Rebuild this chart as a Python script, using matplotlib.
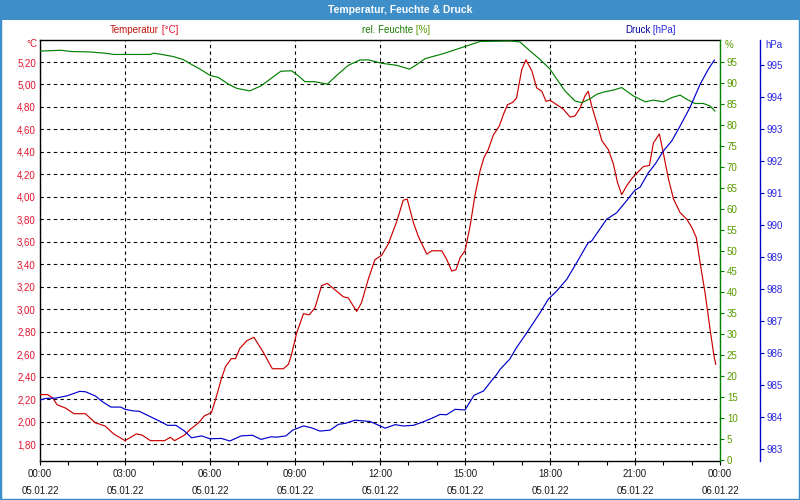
import numpy as np
import matplotlib
matplotlib.use("Agg")
import matplotlib.pyplot as plt
from matplotlib.patches import Rectangle
from matplotlib.ticker import FuncFormatter

plt.rcParams['font.family'] = ['Liberation Sans', 'DejaVu Sans']
plt.rcParams['font.size'] = 7

# Stunden ab 05.01.22 00:00
temp_h = [0, 0.27, 0.45, 0.6, 0.9, 1.2, 1.6, 1.95, 2.3, 2.6,
          3.0, 3.4, 3.6, 3.9, 4.4, 4.6, 4.75, 5.1, 5.3, 5.6,
          5.8, 6.05, 6.2, 6.4, 6.55, 6.75, 6.9, 7.05, 7.3, 7.55,
          7.85, 8.2, 8.59, 8.77, 8.88, 9.06, 9.3, 9.5, 9.7, 9.94,
          10.14, 10.47, 10.71, 10.88, 11.18, 11.35, 11.59, 11.82, 12.06, 12.29,
          12.59, 12.82, 12.96, 13.18, 13.35, 13.65, 13.83, 14.18, 14.36, 14.53,
          14.68, 14.83, 15.0, 15.18, 15.35, 15.53, 15.67, 15.82, 16.0, 16.21,
          16.35, 16.5, 16.68, 16.82, 17.0, 17.15, 17.36, 17.53, 17.71, 17.86,
          18.0, 18.24, 18.47, 18.71, 18.88, 19.06, 19.24, 19.35, 19.47, 19.65,
          19.83, 20.06, 20.24, 20.38, 20.53, 20.71, 20.88, 21.06, 21.3, 21.51,
          21.65, 21.86, 22.0, 22.18, 22.36, 22.59, 22.83, 23.0, 23.16, 23.3,
          23.47, 23.65, 23.79, 23.85]
temp_c = [2.24, 2.24, 2.21, 2.15, 2.12, 2.07, 2.07, 1.99, 1.96, 1.89,
          1.83, 1.89, 1.88, 1.83, 1.83, 1.86, 1.83, 1.88, 1.93, 1.99,
          2.05, 2.08, 2.20, 2.38, 2.49, 2.56, 2.56, 2.65, 2.72, 2.75,
          2.63, 2.47, 2.47, 2.51, 2.60, 2.79, 2.96, 2.95, 3.01, 3.21,
          3.23, 3.16, 3.11, 3.10, 2.98, 3.06, 3.27, 3.44, 3.48, 3.58,
          3.78, 3.97, 3.98, 3.77, 3.65, 3.49, 3.52, 3.52, 3.44, 3.34,
          3.35, 3.46, 3.52, 3.74, 4.01, 4.23, 4.35, 4.42, 4.55, 4.63,
          4.73, 4.82, 4.84, 4.88, 5.13, 5.22, 5.12, 4.97, 4.94, 4.85,
          4.86, 4.82, 4.78, 4.71, 4.72, 4.79, 4.90, 4.94, 4.81, 4.66,
          4.50, 4.42, 4.29, 4.13, 4.02, 4.10, 4.16, 4.21, 4.27, 4.28,
          4.48, 4.56, 4.39, 4.16, 3.98, 3.86, 3.80, 3.73, 3.64, 3.41,
          3.15, 2.82, 2.58, 2.51]

hum_h = [0, 0.74, 1.1, 1.75, 2.3, 2.6, 3.9, 4.0, 4.3, 4.7,
         5.05, 5.35, 5.65, 6.0, 6.3, 6.65, 6.95, 7.4, 7.8, 8.1,
         8.5, 8.88, 9.12, 9.35, 9.7, 10.14, 10.47, 10.88, 11.3, 11.6,
         12.06, 12.59, 13.04, 13.3, 13.59, 14.24, 15.0, 15.53, 16.6, 16.94,
         17.3, 17.65, 18.0, 18.24, 18.53, 18.88, 19.12, 19.41, 19.65, 19.88,
         20.24, 20.53, 20.94, 21.36, 21.65, 22.0, 22.3, 22.59, 22.83, 23.12,
         23.41, 23.65, 23.82]
hum_pct = [97.6, 97.8, 97.5, 97.4, 97.1, 96.8, 96.8, 97.1, 96.8, 96.3,
           95.6, 94.4, 93.3, 91.8, 91.3, 89.7, 88.7, 88.1, 89.3, 90.8,
           92.8, 92.9, 91.7, 90.3, 90.3, 89.7, 91.8, 94.2, 95.5, 95.5,
           94.7, 94.2, 93.3, 94.4, 95.8, 97.0, 98.7, 99.9, 100, 99.8,
           97.6, 95.6, 93.3, 90.9, 88.1, 85.7, 85.3, 86.2, 87.3, 87.8,
           88.3, 88.9, 86.9, 85.5, 85.9, 85.5, 86.5, 87.1, 86.1, 85.1,
           85.1, 84.5, 83.3]

druck_h = [0, 0.2, 0.55, 0.95, 1.4, 1.6, 1.95, 2.2, 2.5, 2.85,
           3.0, 3.3, 3.5, 3.8, 4.2, 4.5, 4.8, 5.1, 5.35, 5.7,
           6.0, 6.4, 6.7, 7.1, 7.5, 7.8, 8.15, 8.35, 8.68, 8.92,
           9.3, 9.59, 9.88, 10.24, 10.53, 10.77, 11.12, 11.65, 11.88, 12.18,
           12.53, 12.82, 13.18, 13.53, 13.88, 14.12, 14.35, 14.65, 15.0, 15.32,
           15.65, 15.88, 16.12, 16.24, 16.59, 16.82, 17.18, 17.65, 17.94, 18.24,
           18.59, 18.94, 19.35, 19.47, 20.0, 20.35, 20.65, 21.0, 21.18, 21.47,
           21.71, 22.0, 22.3, 22.59, 22.94, 23.3, 23.59, 23.8]
druck_hpa = [984.53, 984.58, 984.59, 984.66, 984.80, 984.79, 984.66, 984.48, 984.31, 984.31,
             984.24, 984.19, 984.18, 984.05, 983.88, 983.74, 983.74, 983.56, 983.35, 983.41,
             983.32, 983.33, 983.25, 983.41, 983.43, 983.30, 983.38, 983.37, 983.41, 983.59,
             983.72, 983.66, 983.56, 983.59, 983.77, 983.80, 983.90, 983.86, 983.77, 983.65,
             983.76, 983.72, 983.74, 983.85, 983.98, 984.08, 984.07, 984.24, 984.22, 984.68,
             984.81, 985.07, 985.33, 985.49, 985.82, 986.17, 986.63, 987.26, 987.68, 987.94,
             988.30, 988.82, 989.45, 989.50, 990.18, 990.38, 990.70, 991.09, 991.18, 991.63,
             991.90, 992.31, 992.63, 993.09, 993.67, 994.40, 994.87, 995.15]

x_ticks = [0, 3, 6, 9, 12, 15, 18, 21, 24]
x_labels = ["00:00\n05.01.22", "03:00\n05.01.22", "06:00\n05.01.22",
            "09:00\n05.01.22", "12:00\n05.01.22", "15:00\n05.01.22",
            "18:00\n05.01.22", "21:00\n05.01.22", "00:00\n06.01.22"]

rahmen = "#3d8ec9"
rot_linie, rot_text, rot_name = "#cc0000", "#e3122d", "#c0140c"
gruen_linie, gruen_text, gruen_name = "#008000", "#5a9a00", "#1a7a00"
blau_linie, blau_text, blau_name = "#0000cc", "#2a2ae0", "#0000a0"

fig = plt.figure(figsize=(8, 5), dpi=100)
fig.patch.set_facecolor("white")

# Titelleiste und Rahmen
fig.patches.append(Rectangle((0, 1 - 20 / 500), 1, 20 / 500, transform=fig.transFigure,
                             facecolor=rahmen, edgecolor="none", zorder=0))
fig.patches.append(Rectangle((0, 0), 1, 1, transform=fig.transFigure, fill=False,
                             edgecolor=rahmen, linewidth=2.5, zorder=0))
fig.text(0.5, 1 - 10 / 500, "Temperatur, Feuchte & Druck", color="white",
         fontweight="bold", fontsize=7.5, ha="center", va="center")

ax = fig.add_axes([40 / 800, 39 / 500, 680 / 800, 421 / 500])
ax2 = ax.twinx()
ax3 = ax.twinx()

ax.plot(temp_h, temp_c, color=rot_linie, linewidth=0.85, zorder=3)
ax2.plot(hum_h, hum_pct, color=gruen_linie, linewidth=0.85)
ax3.plot(druck_h, druck_hpa, color=blau_linie, linewidth=0.85)

ax.set_xlim(0, 24)
ax.set_ylim(1.649, 5.396)
ax2.set_ylim(-0.24, 100.25)
ax3.set_ylim(982.625, 995.78)

# x-Achse
ax.set_xticks(x_ticks)
ax.set_xticklabels(x_labels, linespacing=1.8)
ax.set_xticks(np.arange(0, 25, 1), minor=True)
ax.tick_params(axis="x", which="both", length=3, width=0.8, pad=3, colors="black")
for lab in ax.get_xticklabels():
    lab.set_color("#1a1a1a")

# linke Achse Temperatur
ax.set_yticks(np.arange(1.8, 5.21, 0.2))
ax.yaxis.set_major_formatter(FuncFormatter(lambda v, p: f"{v:.2f}".replace(".", ",")))
ax.tick_params(axis="y", length=0, pad=3, labelcolor=rot_text)
ax.grid(True, which="major", color="black", linestyle=(0, (3, 3)), linewidth=0.8)
ax.spines["right"].set_visible(False)
for s in ["left", "top", "bottom"]:
    ax.spines[s].set_linewidth(1.0)

# rechte Achse Feuchte
for s in ["left", "top", "bottom"]:
    ax2.spines[s].set_visible(False)
ax2.spines["right"].set_color(gruen_linie)
ax2.spines["right"].set_linewidth(1.0)
ax2.set_yticks(np.arange(0, 96, 5))
ax2.tick_params(axis="y", length=3, width=0.8, pad=2, color=gruen_linie, labelcolor=gruen_text)

# rechte Achse Druck
for s in ["left", "top", "bottom"]:
    ax3.spines[s].set_visible(False)
ax3.spines["right"].set_position(("axes", 720 / 680))
ax3.spines["right"].set_color(blau_linie)
ax3.spines["right"].set_linewidth(1.0)
ax3.set_yticks(np.arange(983, 996, 1))
ax3.tick_params(axis="y", length=3, width=0.8, pad=2, color=blau_linie, labelcolor=blau_text)

# Einheiten oben an den Achsen
fig.text(37 / 800, 1 - 44 / 500, "°C", color=rot_text, ha="right", va="center")
fig.text(725 / 800, 1 - 45 / 500, "%", color=gruen_text, ha="left", va="center")
fig.text(765 / 800, 1 - 45 / 500, "hPa", color=blau_text, ha="left", va="center")

# Legende über dem Diagramm
for x0, name, einheit, c1, c2 in [(110, "Temperatur", " [°C]", rot_name, rot_text),
                                   (362, "rel. Feuchte", " [%]", gruen_name, gruen_text),
                                   (625, "Druck", " [hPa]", blau_name, blau_text)]:
    t = fig.text(x0 / 800, 1 - 30 / 500, name, color=c1, ha="left", va="center")
    ax.annotate(einheit, xy=(1, 0.5), xycoords=t, color=c2, ha="left", va="center")

fig.savefig("out.png", dpi=100)
